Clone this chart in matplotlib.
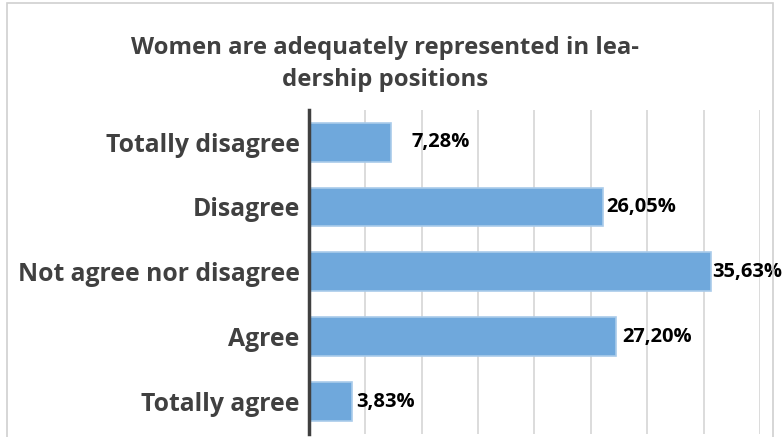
import matplotlib
matplotlib.use('Agg')
import matplotlib.pyplot as plt
from matplotlib.patches import Rectangle

categories = ['Totally disagree', 'Disagree', 'Not agree nor disagree', 'Agree', 'Totally agree']
shares = [7.28, 26.05, 35.63, 27.20, 3.83]
value_labels = ['7,28%', '26,05%', '35,63%', '27,20%', '3,83%']
title = 'Women are adequately represented in lea-\ndership positions'

plt.rcParams['font.family'] = ['Open Sans', 'DejaVu Sans']

fig = plt.figure(figsize=(7.82, 4.37), dpi=100)
ax = fig.add_axes([0.395, 0.007, 0.577, 0.742])

ypos = list(range(len(categories)))
ax.barh(ypos, shares, height=0.6, color='#6fa8dc', edgecolor='#a9cbea', linewidth=1.2, zorder=3)
ax.set_ylim(len(categories) - 0.5, -0.5)
ax.set_xlim(0, 40)
ax.set_xticks(range(0, 41, 5))
ax.tick_params(axis='x', length=0, labelbottom=False)
ax.grid(axis='x', color='#d9d9d9', linewidth=1.3, zorder=0)

ax.set_yticks(ypos)
ax.set_yticklabels(categories, fontsize=17.8, fontweight='bold', color='#404040')
ax.tick_params(axis='y', length=0, pad=6.5)

for s in ['top', 'right', 'bottom']:
    ax.spines[s].set_visible(False)
ax.spines['left'].set_color('#404040')
ax.spines['left'].set_linewidth(2.5)
ax.spines['left'].set_zorder(4)

# extra gap after the first bar's label
pads = [1.8, 0.3, 0.1, 0.6, 0.4]
for y, v, lab, pd in zip(ypos, shares, value_labels, pads):
    ax.text(v + pd, y, lab, va='center', ha='left', fontsize=14.5, fontweight='bold',
            color='black', zorder=5, clip_on=False)

fig.text(385 / 782, 0.853, title, ha='center', va='center', fontsize=17.2, fontweight='bold',
         color='#404040', linespacing=1.45)

# chart frame
fig.patches.append(Rectangle((7 / 782, -0.05), 766 / 782, 1.042, transform=fig.transFigure,
                             fill=False, edgecolor='#d0d0d0', linewidth=1.2))

fig.savefig('out.png', dpi=100)
